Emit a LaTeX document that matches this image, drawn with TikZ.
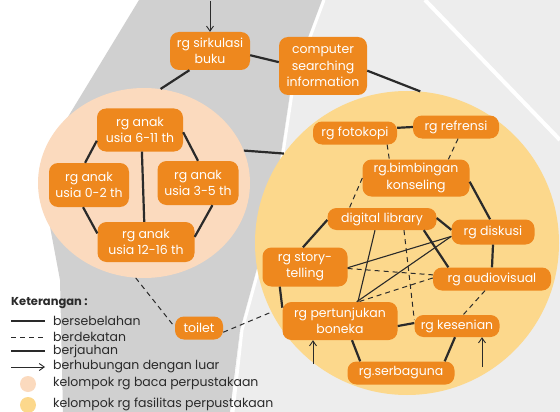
\documentclass[tikz,border=0pt]{standalone}
\usepackage{fontspec}
\setmainfont{Poppins}
\usetikzlibrary{shapes.geometric,arrows.meta,calc}
\definecolor{roomc}{HTML}{EE881E}
\definecolor{peach}{HTML}{FBDABE}
\definecolor{sand}{HTML}{FCD88C}
\definecolor{ink}{HTML}{2A2A2A}
\definecolor{wmdark}{HTML}{D0D0D0}
\definecolor{wmlight}{HTML}{EDEDED}
\begin{document}
\begin{tikzpicture}[x=1pt,y=-1pt,
 room/.style={fill=roomc, text=white, rounded corners=9pt, inner sep=0pt, align=center,
   font=\fontsize{12.5}{16.5}\selectfont},
 adj/.style={draw=ink, line width=2.2pt},
 near/.style={draw=ink, line width=1pt, dash pattern=on 5pt off 4pt},
 far/.style={draw=ink, line width=1.1pt},
 ext/.style={draw=ink, line width=0.9pt, -{Straight Barb[length=5pt,width=7pt]}},
 legtxt/.style={anchor=west, inner sep=0pt, font=\fontsize{12.5}{14}\selectfont, text=ink}
]
\useasboundingbox (0,0) rectangle (560,412);
% background watermark (approximate)
\fill[white] (0,0) rectangle (560,412);
\fill[wmlight] (300,0) -- (560,0) -- (560,412) -- (232,412) -- (240,330) -- (262,250) -- (280,160) -- (292,80) -- cycle;
\fill[wmdark] (139,0) -- (322,0) -- (292,80) -- (280,160) -- (262,250) -- (240,330) -- (230,412) -- (63,412) -- (60,280) -- (45,200) -- (60,130) -- cycle;
\draw[white, line width=4pt] (425,0) -- (560,140);
\draw[white, line width=3pt] (324,0) -- (294,80) -- (282,160) -- (264,250) -- (242,330) -- (233,412);

% group circles
\node[ellipse, fill=peach, minimum width=212pt, minimum height=190pt, inner sep=0pt] (lc) at (144,183) {};
\node[circle, fill=sand, minimum size=304pt, inner sep=0pt] (rc) at (407,243) {};

% rooms
\node[room, minimum width=80pt, minimum height=38pt] (sirk) at (210,51) {rg sirkulasi\\buku};
\node[room, minimum width=88pt, minimum height=58pt] (comp) at (323,66) {computer\\searching\\information};
\node[room, minimum width=86pt, minimum height=43pt] (a611) at (140,130) {rg anak\\usia 6-11 th};
\node[room, minimum width=80pt, minimum height=44pt] (a02) at (89,185) {rg anak\\usia 0-2 th};
\node[room, minimum width=81pt, minimum height=44pt] (a35) at (198,183) {rg anak\\usia 3-5 th};
\node[room, minimum width=97pt, minimum height=40pt] (a1216) at (146,242) {rg anak\\usia 12-16 th};
\node[room, minimum width=84pt, minimum height=23pt] (foto) at (355,133) {rg fotokopi};
\node[room, minimum width=86pt, minimum height=23pt] (ref) at (456,127) {rg refrensi};
\node[room, minimum width=107pt, minimum height=37pt] (bimb) at (416,178) {rg.bimbingan\\konseling};
\node[room, minimum width=109pt, minimum height=22pt] (dl) at (382,219) {digital library};
\node[room, minimum width=83pt, minimum height=25pt] (disk) at (493,232) {rg diskusi};
\node[room, minimum width=85pt, minimum height=39pt] (st) at (305,267) {rg story-\\telling};
\node[room, minimum width=118pt, minimum height=23pt] (av) at (492,279) {rg audiovisual};
\node[room, minimum width=115pt, minimum height=38pt] (pt) at (340,321) {rg pertunjukan\\boneka};
\node[room, minimum width=85pt, minimum height=22pt] (kes) at (457,326) {rg kesenian};
\node[room, minimum width=107pt, minimum height=23pt] (serb) at (401,373) {rg.serbaguna};
\node[room, minimum width=48pt, minimum height=23pt] (toilet) at (199,328) {toilet};

% outside links
\coordinate (intop) at (210,1);
\coordinate (inpt) at (313,364);
\coordinate (inkes) at (482,367);
\draw[ext] (intop) -- (sirk.north);
\draw[ext] (inpt) -- (inpt |- pt.south);
\draw[ext] (inkes) -- (inkes |- kes.south);

% connectors
\draw[adj] (sirk.-137) -- (lc.80);
\draw[adj] (sirk.-6) -- (comp.175);
\draw[adj] (comp.-6) -- (rc.85);
\draw[adj] (lc.18) -- (rc.144);

\draw[adj] (a611.-166) -- (a02.100);
\draw[adj] (a611.-3) -- (a35.90);
\draw[adj] (a611.-85) -- (a1216.95);
\draw[adj] (a02.-105) -- (a1216.170);
\draw[adj] (a35.-57) -- (a1216.6);

\draw[adj] (foto.7) -- (ref.180);
\draw[near] (foto.-20) -- (bimb.145);
\draw[near] (ref.-80) -- (bimb.30);
\draw[near] (bimb.180) -- (dl.161);
\draw[adj] (bimb.-4) -- (disk.103);
\draw[adj] (dl.-179) -- (st.96);
\draw[adj] (dl.1) -- (disk.177);
\draw[adj] (dl.-15) -- (av.165);
\draw[far] (dl.-122) -- (pt.47);
\draw[near] (dl.-27) -- (kes.172);
\draw[far] (st.-1) -- (disk.186);
\draw[near] (st.-2) -- (av.176);
\draw[far] (disk.186) -- (pt.49);
\draw[near] (av.179) -- (pt.46);
\draw[adj] (st.-142) -- (pt.167);
\draw[adj] (disk.south) -- (av.north);
\draw[near] (av.-121) -- (kes.61);
\draw[adj] (pt.-5) -- (kes.176);
\draw[adj] (pt.-58) -- (serb.164);
\draw[adj] (kes.-100) -- (serb.15);
\draw[near] (lc.-95) -- (toilet.178);
\draw[near] (toilet.-10) -- (rc.-153);

% legend
\node[legtxt, font=\fontsize{11.5}{14}\selectfont\bfseries] (kt) at (11,303) {Keterangan :};
\node[legtxt] (l1) at (53,321) {bersebelahan};
\node[legtxt] (l2) at (53,337) {berdekatan};
\node[legtxt] (l3) at (53,351) {berjauhan};
\node[legtxt] (l4) at (53,367) {berhubungan dengan luar};
\node[legtxt] (l5) at (53,384) {kelompok rg baca perpustakaan};
\node[legtxt] (l6) at (53,404) {kelompok rg fasilitas perpustakaan};
\coordinate (s1) at (11,321); \coordinate (e1) at (45,321);
\coordinate (s2) at (11,337); \coordinate (e2) at (45,337);
\coordinate (s3) at (11,351); \coordinate (e3) at (45,351);
\coordinate (s4) at (11,367); \coordinate (e4) at (45,367);
\draw[adj] (s1) -- (e1);
\draw[near] (s2) -- (e2);
\draw[far] (s3) -- (e3);
\draw[ext] (s4) -- (e4);
\node[circle, fill=peach, minimum size=16pt, inner sep=0pt] (k5) at (28,384) {};
\node[circle, fill=sand, minimum size=16pt, inner sep=0pt] (k6) at (28,405) {};
\end{tikzpicture}
\end{document}
